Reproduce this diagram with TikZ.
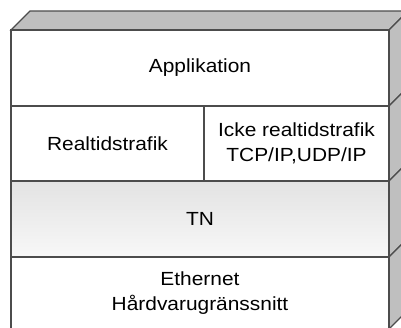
\documentclass[tikz,border=0pt]{standalone}
\usepackage{fontspec}
\setmainfont[FakeStretch=1.1]{Liberation Sans}
\begin{document}
\begin{tikzpicture}[x=1pt,y=-1pt,line width=1.1pt,edge/.style={draw=black!70},face/.style={edge,fill=black!25},layer/.style={edge,fill=white,shape=rectangle,inner sep=0pt,align=center,font=\fontsize{19}{25}\selectfont},layerTN/.style={layer,top color=black!11,bottom color=black!3}]
\def\xl{11};
\def\xr{389};
\def\xm{204};
\def\dep{19};
\def\ya{30};
\def\yb{106};
\def\yc{181};
\def\yd{257};
\def\ye{329};

\useasboundingbox (0,0) rectangle (401,327);

\draw[face] (\xl,\ya) -- (\xl+\dep,\ya-\dep) -- (\xr+\dep,\ya-\dep) -- (\xr,\ya) -- cycle;
\draw[face] (\xr,\ya) -- (\xr+\dep,\ya-\dep) -- (\xr+\dep,\yb-\dep) -- (\xr,\yb) -- cycle;
\draw[face] (\xr,\yb) -- (\xr+\dep,\yb-\dep) -- (\xr+\dep,\yc-\dep) -- (\xr,\yc) -- cycle;
\draw[face] (\xr,\yc) -- (\xr+\dep,\yc-\dep) -- (\xr+\dep,\yd-\dep) -- (\xr,\yd) -- cycle;
\draw[face] (\xr,\yd) -- (\xr+\dep,\yd-\dep) -- (\xr+\dep,\ye-\dep) -- (\xr,\ye) -- cycle;

\node[layer,minimum width=\xr-\xl,minimum height=\yb-\ya] (app) at (0.5*\xl+0.5*\xr,0.5*\ya+0.5*\yb) {Applikation};
\node[layer,minimum width=\xm-\xl,minimum height=\yc-\yb] (rt) at (0.5*\xl+0.5*\xm,0.5*\yb+0.5*\yc) {Realtidstrafik};
\node[layer,minimum width=\xr-\xm,minimum height=\yc-\yb] (nrt) at (0.5*\xm+0.5*\xr,0.5*\yb+0.5*\yc) {Icke realtidstrafik\\TCP/IP,UDP/IP};
\node[layerTN,minimum width=\xr-\xl,minimum height=\yd-\yc] (tn) at (0.5*\xl+0.5*\xr,0.5*\yc+0.5*\yd) {TN};
\node[layer,minimum width=\xr-\xl,minimum height=\ye-\yd] (eth) at (0.5*\xl+0.5*\xr,0.5*\yd+0.5*\ye) {Ethernet\\Hårdvarugränssnitt};
\end{tikzpicture}
\end{document}
